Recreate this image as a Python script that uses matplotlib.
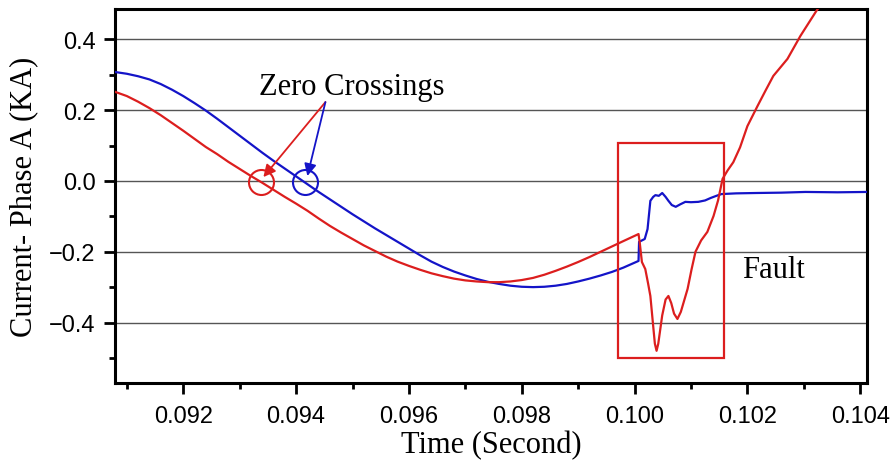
import numpy as np
import matplotlib.pyplot as plt
from matplotlib.patches import Rectangle
from matplotlib.ticker import MultipleLocator

# (time in s, current in kA)
t_blue = [0.09079, 0.0910, 0.0912, 0.0914, 0.0916, 0.0918, 0.0920, 0.0922, 0.0924,
          0.0926, 0.0928, 0.0930, 0.0932, 0.0934, 0.0936, 0.0938, 0.0940, 0.0942,
          0.0944, 0.0946, 0.0948, 0.0950, 0.0952, 0.0954, 0.0956, 0.0958, 0.0960,
          0.0962, 0.0964, 0.0966, 0.0968, 0.0970, 0.0972, 0.0974, 0.0976, 0.0978,
          0.0980, 0.0982, 0.0984, 0.0986, 0.0988, 0.0990, 0.0992, 0.0994, 0.0996,
          0.0998, 0.10007, 0.10008, 0.10018, 0.10023, 0.10028, 0.10033, 0.10037,
          0.10043, 0.10049, 0.10055, 0.10060, 0.10066, 0.10073, 0.10081, 0.10090,
          0.10100, 0.10113, 0.10125, 0.10135, 0.10145, 0.10154, 0.10180, 0.10215,
          0.10260, 0.10303, 0.10360, 0.10412]
i_blue = [0.308, 0.303, 0.296, 0.287, 0.274, 0.258, 0.240, 0.220, 0.199,
          0.176, 0.152, 0.128, 0.104, 0.080, 0.057, 0.035, 0.013, -0.009,
          -0.031, -0.052, -0.073, -0.094, -0.114, -0.134, -0.153, -0.172, -0.191,
          -0.210, -0.228, -0.243, -0.256, -0.267, -0.277, -0.285, -0.291, -0.296,
          -0.299, -0.300, -0.299, -0.296, -0.291, -0.284, -0.276, -0.267, -0.257,
          -0.245, -0.226, -0.172, -0.164, -0.136, -0.056, -0.045, -0.040,
          -0.042, -0.034, -0.045, -0.056, -0.068, -0.073, -0.066, -0.059,
          -0.060, -0.059, -0.055, -0.048, -0.042, -0.037, -0.035, -0.034,
          -0.033, -0.031, -0.032, -0.031]

t_red = [0.09079, 0.0910, 0.0912, 0.0914, 0.0916, 0.0918, 0.0920, 0.0922, 0.0924,
         0.0926, 0.0928, 0.0930, 0.0932, 0.0934, 0.0936, 0.0938, 0.0940, 0.0942,
         0.0944, 0.0946, 0.0948, 0.0950, 0.0952, 0.0954, 0.0956, 0.0958, 0.0960,
         0.0962, 0.0964, 0.0966, 0.0968, 0.0970, 0.0972, 0.0974, 0.0976, 0.0978,
         0.0980, 0.0982, 0.0984, 0.0986, 0.0988, 0.0990, 0.0992, 0.0994, 0.0996,
         0.0998, 0.10007, 0.10009, 0.10013, 0.10019, 0.10024, 0.10028, 0.10033,
         0.10036, 0.10039, 0.10042, 0.10049, 0.10055, 0.10060, 0.10065, 0.10070,
         0.10076, 0.10082, 0.10094, 0.10101, 0.10108, 0.10118, 0.10129, 0.10140,
         0.10148, 0.10156, 0.10165, 0.10175, 0.10187, 0.10200, 0.10218, 0.10232,
         0.10246, 0.10258, 0.10271, 0.10294, 0.10322, 0.10340]
i_red = [0.252, 0.240, 0.224, 0.206, 0.186, 0.164, 0.142, 0.119, 0.096,
         0.076, 0.054, 0.034, 0.014, -0.005, -0.025, -0.045, -0.064, -0.084,
         -0.106, -0.127, -0.146, -0.164, -0.182, -0.198, -0.214, -0.228, -0.240,
         -0.251, -0.261, -0.269, -0.276, -0.281, -0.284, -0.286, -0.286, -0.284,
         -0.280, -0.274, -0.265, -0.254, -0.242, -0.229, -0.215, -0.200, -0.185,
         -0.170, -0.150, -0.172, -0.229, -0.249, -0.290, -0.325, -0.410,
         -0.460, -0.480, -0.460, -0.380, -0.335, -0.325, -0.345, -0.375,
         -0.390, -0.370, -0.305, -0.250, -0.200, -0.168, -0.144, -0.099,
         -0.055, 0.006, 0.030, 0.053, 0.095, 0.155, 0.212, 0.255,
         0.297, 0.320, 0.345, 0.410, 0.480, 0.520]

xticks = [0.092, 0.094, 0.096, 0.098, 0.100, 0.102, 0.104]
yticks = [-0.4, -0.2, 0.0, 0.2, 0.4]

red = '#dc1e1e'
blue = '#1414c8'
serif = ['Liberation Serif', 'DejaVu Serif']
plt.rcParams['font.family'] = ['Liberation Sans', 'DejaVu Sans']

fig = plt.figure(figsize=(8.95, 4.64), dpi=100)
ax = fig.add_axes([0.1285, 0.1724, 0.8402, 0.8060])

for y in yticks:
    ax.axhline(y, color='#555555', lw=1.0, zorder=1)

ax.plot(t_blue, i_blue, color=blue, lw=1.6, zorder=3)
ax.plot(t_red, i_red, color=red, lw=1.6, zorder=3)

# fault box
ax.add_patch(Rectangle((0.09970, -0.500), 0.10158 - 0.09970, 0.607,
                       fill=False, edgecolor=red, lw=1.6, zorder=4))

# zero crossing circles
ax.plot([0.09338], [-0.002], 'o', ms=18, mfc='none', mec=red, mew=1.5, zorder=4)
ax.plot([0.09416], [-0.002], 'o', ms=18, mfc='none', mec=blue, mew=1.5, zorder=4)

ax.annotate('', xy=(0.09342, 0.011), xytext=(0.09452, 0.223),
            arrowprops=dict(arrowstyle='-|>', color=red, lw=1.3, mutation_scale=18,
                            shrinkA=0, shrinkB=0), zorder=5)
ax.annotate('', xy=(0.09420, 0.014), xytext=(0.09452, 0.223),
            arrowprops=dict(arrowstyle='-|>', color=blue, lw=1.3, mutation_scale=18,
                            shrinkA=0, shrinkB=0), zorder=5)

ax.text(0.09335, 0.246, 'Zero Crossings', family=serif, fontsize=22,
        ha='left', va='baseline')
ax.text(0.10191, -0.271, 'Fault', family=serif, fontsize=22,
        ha='left', va='baseline')

ax.set_xlim(0.09079, 0.10412)
ax.set_ylim(-0.571, 0.486)
ax.set_xticks(xticks)
ax.set_xticklabels(['%.3f' % v for v in xticks])
ax.set_yticks(yticks)
ax.set_yticklabels([('%.1f' % v).replace('-', '\u2212') for v in yticks])
ax.xaxis.set_minor_locator(MultipleLocator(0.001))
ax.yaxis.set_minor_locator(MultipleLocator(0.1))
ax.tick_params(which='major', direction='out', length=8, width=2, labelsize=17, pad=6)
ax.tick_params(which='minor', direction='out', length=4.5, width=2)
ax.tick_params(axis='x', pad=8)
for s in ax.spines.values():
    s.set_linewidth(2.2)

ax.set_xlabel('Time (Second)', family=serif, fontsize=22, labelpad=2)
ax.set_ylabel('Current- Phase A (KA)', family=serif, fontsize=22, labelpad=8)

fig.savefig('out.png', dpi=100)
